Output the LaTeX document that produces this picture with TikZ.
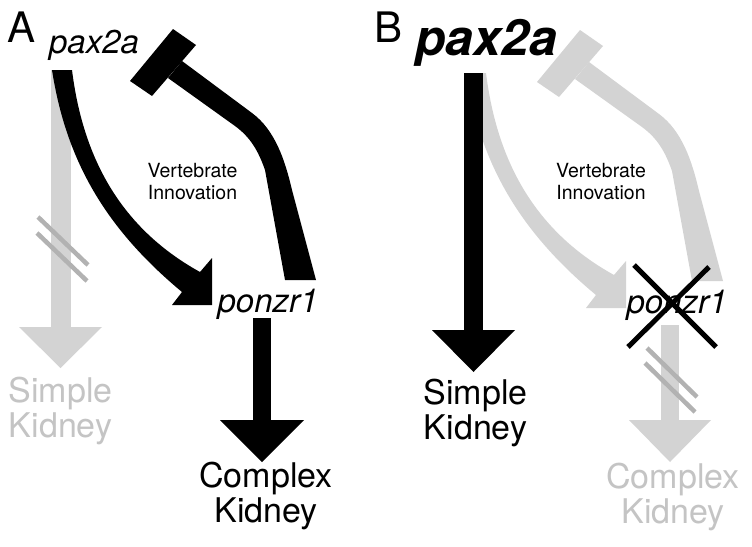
\documentclass[tikz,border=0pt]{standalone}
\usepackage{fontspec}
\setmainfont{TeX Gyre Heros}
\definecolor{offgray}{HTML}{D3D3D3}
\definecolor{offtext}{HTML}{C4C4C4}
\definecolor{slashgray}{HTML}{B2B2B2}
\tikzset{
  lbl/.style={anchor=base, inner sep=0pt, outer sep=0pt},
  gene/.style={lbl, font=\fontsize{33}{33}\selectfont\itshape},
  genebig/.style={lbl, font=\fontsize{50}{50}\selectfont\bfseries\itshape},
  organ/.style={lbl, font=\fontsize{34}{34}\selectfont},
  panel/.style={lbl, font=\fontsize{42}{42}\selectfont},
  note/.style={lbl, font=\fontsize{19.5}{19.5}\selectfont},
  onfill/.style={fill=black},
  offfill/.style={fill=offgray},
  slash/.style={draw=slashgray, line width=4.5pt},
  cross/.style={draw=black, line width=5pt},
}
\begin{document}
\begin{tikzpicture}[x=1pt, y=-1pt]
\useasboundingbox (0,0) rectangle (752,546);
\fill[white] (0,0) rectangle (752,546);

% ---------------- Panel A ----------------
% gray pax2a -> simple kidney
\fill[offfill] (50.5,70) rectangle (70.5,328);
\fill[offfill] (19,327) -- (102,327) -- (60.5,368) -- cycle;
\draw[slash] (38,217) -- (88,265);
\draw[slash] (37,233) -- (87,281);
% black curved arrow pax2a -> ponzr1
\fill[onfill] (52,70) .. controls (66,160) and (105,228) .. (182,292) -- (172,305) -- (212,305) -- (212,258) -- (200,272) .. controls (115,225) and (82,150) .. (72,70) -- cycle;
% black T-bar ponzr1 -| pax2a
\fill[onfill] (182,61) -- (252,113) .. controls (275,130) and (285,160) .. (292,190) -- (316,280) -- (285,280) -- (265,170) .. controls (258,150) and (250,137) .. (235,126) -- (168,78) -- cycle;
\fill[onfill] (173,29) -- (196,45) -- (152,96) -- (130,81) -- cycle;
% black ponzr1 -> complex kidney
\fill[onfill] (253,318) rectangle (271,421);
\fill[onfill] (220,420) -- (304,420) -- (262,462) -- cycle;

\node[panel] (labA) at (21.5,42) {A};
\node[gene] (paxA) at (94,53) {pax2a};
\node[note] (vertA1) at (192.5,177) {Vertebrate};
\node[note] (vertA2) at (192.5,199) {Innovation};
\node[gene] (ponA) at (268,312) {ponzr1};
\node[organ, text=offtext] (simA1) at (60.5,402) {Simple};
\node[organ, text=offtext] (simA2) at (60.5,437) {Kidney};
\node[organ] (comA1) at (266,487) {Complex};
\node[organ] (comA2) at (266,522) {Kidney};

% ---------------- Panel B ----------------
\begin{scope}[shift={(414,3)}]
\fill[offfill] (52,70) .. controls (66,160) and (105,228) .. (182,292) -- (172,305) -- (212,305) -- (212,258) -- (200,272) .. controls (115,225) and (82,150) .. (72,70) -- cycle;
\end{scope}
\begin{scope}[shift={(407,1)}]
\fill[offfill] (182,61) -- (252,113) .. controls (275,130) and (285,160) .. (292,190) -- (316,280) -- (285,280) -- (265,170) .. controls (258,150) and (250,137) .. (235,126) -- (168,78) -- cycle;
\fill[offfill] (173,29) -- (196,45) -- (152,96) -- (130,81) -- cycle;
\end{scope}
% black pax2a -> simple kidney
\fill[onfill] (464,73) rectangle (483,331);
\fill[onfill] (432,330) -- (515,330) -- (473.5,372) -- cycle;
% gray ponzr1 -> complex kidney
\fill[offfill] (661,325) rectangle (679,421);
\fill[offfill] (629,420) -- (711,420) -- (670,462) -- cycle;
\draw[slash] (647,348) -- (697,397);
\draw[slash] (645,363) -- (695,412);

\node[panel] (labB) at (389,42) {B};
\node[genebig] (paxB) at (486,55) {pax2a};
\node[note] (vertB1) at (601,177) {Vertebrate};
\node[note] (vertB2) at (601,199) {Innovation};
\node[gene] (ponB) at (677,313) {ponzr1};
\draw[cross] (634,265) -- (716,347);
\draw[cross] (709,267) -- (628,347);
\node[organ] (simB1) at (475.5,404) {Simple};
\node[organ] (simB2) at (475.5,439) {Kidney};
\node[organ, text=offtext] (comB1) at (673,488) {Complex};
\node[organ, text=offtext] (comB2) at (673,523) {Kidney};
\end{tikzpicture}
\end{document}
